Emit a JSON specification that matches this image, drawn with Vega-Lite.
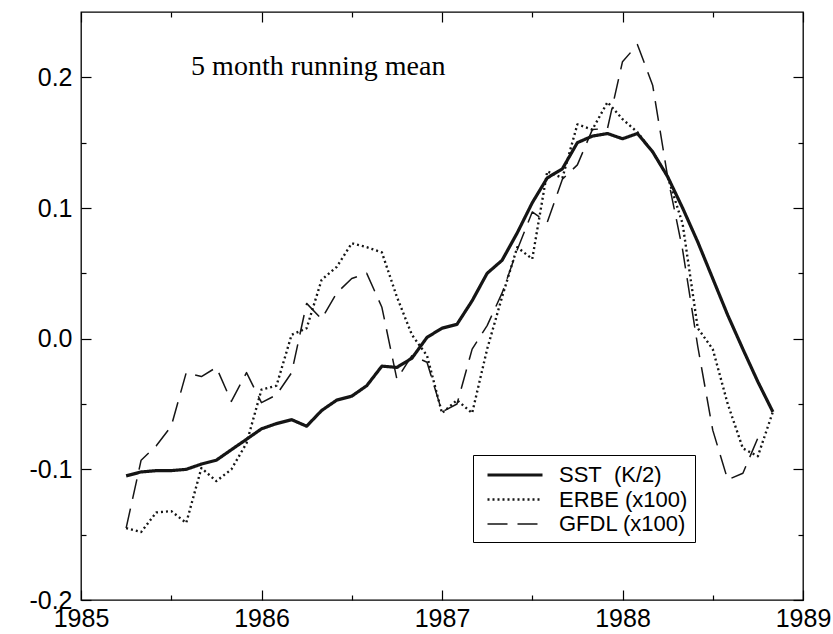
{
  "$schema": "https://vega.github.io/schema/vega-lite/v6.json",
  "width": 722,
  "height": 588,
  "autosize": {"type": "none"},
  "padding": {"left": 81, "top": 12, "right": 30, "bottom": 34},
  "background": "white",
  "config": {
    "view": {"stroke": "black", "strokeWidth": 1.3},
    "axis": {"grid": false, "domain": false, "title": null, "tickColor": "black", "tickWidth": 1.2, "labelColor": "black"}
  },
  "datasets": {
    "lines": [
      {"s": "SST", "t": 1985.25, "v": -0.105},
      {"s": "SST", "t": 1985.333, "v": -0.102},
      {"s": "SST", "t": 1985.417, "v": -0.101},
      {"s": "SST", "t": 1985.5, "v": -0.101},
      {"s": "SST", "t": 1985.583, "v": -0.1},
      {"s": "SST", "t": 1985.667, "v": -0.096},
      {"s": "SST", "t": 1985.75, "v": -0.093},
      {"s": "SST", "t": 1985.833, "v": -0.085},
      {"s": "SST", "t": 1985.917, "v": -0.077},
      {"s": "SST", "t": 1986.0, "v": -0.069},
      {"s": "SST", "t": 1986.083, "v": -0.065},
      {"s": "SST", "t": 1986.167, "v": -0.062},
      {"s": "SST", "t": 1986.25, "v": -0.067},
      {"s": "SST", "t": 1986.333, "v": -0.055},
      {"s": "SST", "t": 1986.417, "v": -0.047},
      {"s": "SST", "t": 1986.5, "v": -0.044},
      {"s": "SST", "t": 1986.583, "v": -0.036},
      {"s": "SST", "t": 1986.667, "v": -0.021},
      {"s": "SST", "t": 1986.75, "v": -0.022},
      {"s": "SST", "t": 1986.833, "v": -0.015},
      {"s": "SST", "t": 1986.917, "v": 0.001},
      {"s": "SST", "t": 1987.0, "v": 0.008},
      {"s": "SST", "t": 1987.083, "v": 0.011},
      {"s": "SST", "t": 1987.167, "v": 0.029},
      {"s": "SST", "t": 1987.25, "v": 0.05},
      {"s": "SST", "t": 1987.333, "v": 0.06},
      {"s": "SST", "t": 1987.417, "v": 0.081},
      {"s": "SST", "t": 1987.5, "v": 0.104},
      {"s": "SST", "t": 1987.583, "v": 0.123},
      {"s": "SST", "t": 1987.667, "v": 0.13},
      {"s": "SST", "t": 1987.75, "v": 0.15},
      {"s": "SST", "t": 1987.833, "v": 0.155},
      {"s": "SST", "t": 1987.917, "v": 0.157},
      {"s": "SST", "t": 1988.0, "v": 0.153},
      {"s": "SST", "t": 1988.083, "v": 0.157},
      {"s": "SST", "t": 1988.167, "v": 0.143},
      {"s": "SST", "t": 1988.25, "v": 0.124},
      {"s": "SST", "t": 1988.333, "v": 0.1},
      {"s": "SST", "t": 1988.417, "v": 0.074},
      {"s": "SST", "t": 1988.5, "v": 0.046},
      {"s": "SST", "t": 1988.583, "v": 0.018},
      {"s": "SST", "t": 1988.667, "v": -0.008},
      {"s": "SST", "t": 1988.75, "v": -0.033},
      {"s": "SST", "t": 1988.833, "v": -0.056},
      {"s": "ERBE", "t": 1985.25, "v": -0.145},
      {"s": "ERBE", "t": 1985.333, "v": -0.148},
      {"s": "ERBE", "t": 1985.417, "v": -0.133},
      {"s": "ERBE", "t": 1985.5, "v": -0.132},
      {"s": "ERBE", "t": 1985.583, "v": -0.141},
      {"s": "ERBE", "t": 1985.667, "v": -0.099},
      {"s": "ERBE", "t": 1985.75, "v": -0.109},
      {"s": "ERBE", "t": 1985.833, "v": -0.1},
      {"s": "ERBE", "t": 1985.917, "v": -0.08},
      {"s": "ERBE", "t": 1986.0, "v": -0.039},
      {"s": "ERBE", "t": 1986.083, "v": -0.036},
      {"s": "ERBE", "t": 1986.167, "v": 0.003},
      {"s": "ERBE", "t": 1986.25, "v": 0.008},
      {"s": "ERBE", "t": 1986.333, "v": 0.045},
      {"s": "ERBE", "t": 1986.417, "v": 0.055},
      {"s": "ERBE", "t": 1986.5, "v": 0.073},
      {"s": "ERBE", "t": 1986.583, "v": 0.07},
      {"s": "ERBE", "t": 1986.667, "v": 0.066},
      {"s": "ERBE", "t": 1986.75, "v": 0.032},
      {"s": "ERBE", "t": 1986.833, "v": 0.003},
      {"s": "ERBE", "t": 1986.917, "v": -0.013},
      {"s": "ERBE", "t": 1987.0, "v": -0.057},
      {"s": "ERBE", "t": 1987.083, "v": -0.047},
      {"s": "ERBE", "t": 1987.167, "v": -0.057},
      {"s": "ERBE", "t": 1987.25, "v": -0.008},
      {"s": "ERBE", "t": 1987.333, "v": 0.032},
      {"s": "ERBE", "t": 1987.417, "v": 0.07},
      {"s": "ERBE", "t": 1987.5, "v": 0.061},
      {"s": "ERBE", "t": 1987.583, "v": 0.128},
      {"s": "ERBE", "t": 1987.667, "v": 0.123},
      {"s": "ERBE", "t": 1987.75, "v": 0.164},
      {"s": "ERBE", "t": 1987.833, "v": 0.16},
      {"s": "ERBE", "t": 1987.917, "v": 0.181},
      {"s": "ERBE", "t": 1988.0, "v": 0.168},
      {"s": "ERBE", "t": 1988.083, "v": 0.158},
      {"s": "ERBE", "t": 1988.167, "v": 0.143},
      {"s": "ERBE", "t": 1988.25, "v": 0.124},
      {"s": "ERBE", "t": 1988.333, "v": 0.088},
      {"s": "ERBE", "t": 1988.417, "v": 0.008},
      {"s": "ERBE", "t": 1988.5, "v": -0.008},
      {"s": "ERBE", "t": 1988.583, "v": -0.05},
      {"s": "ERBE", "t": 1988.667, "v": -0.084},
      {"s": "ERBE", "t": 1988.75, "v": -0.09},
      {"s": "ERBE", "t": 1988.833, "v": -0.056},
      {"s": "GFDL", "t": 1985.25, "v": -0.145},
      {"s": "GFDL", "t": 1985.333, "v": -0.093},
      {"s": "GFDL", "t": 1985.417, "v": -0.082},
      {"s": "GFDL", "t": 1985.5, "v": -0.067},
      {"s": "GFDL", "t": 1985.583, "v": -0.026},
      {"s": "GFDL", "t": 1985.667, "v": -0.029},
      {"s": "GFDL", "t": 1985.75, "v": -0.022},
      {"s": "GFDL", "t": 1985.833, "v": -0.048},
      {"s": "GFDL", "t": 1985.917, "v": -0.026},
      {"s": "GFDL", "t": 1986.0, "v": -0.049},
      {"s": "GFDL", "t": 1986.083, "v": -0.043},
      {"s": "GFDL", "t": 1986.167, "v": -0.026},
      {"s": "GFDL", "t": 1986.25, "v": 0.027},
      {"s": "GFDL", "t": 1986.333, "v": 0.015},
      {"s": "GFDL", "t": 1986.417, "v": 0.035},
      {"s": "GFDL", "t": 1986.5, "v": 0.046},
      {"s": "GFDL", "t": 1986.583, "v": 0.05},
      {"s": "GFDL", "t": 1986.667, "v": 0.024},
      {"s": "GFDL", "t": 1986.75, "v": -0.031},
      {"s": "GFDL", "t": 1986.833, "v": -0.013},
      {"s": "GFDL", "t": 1986.917, "v": -0.018},
      {"s": "GFDL", "t": 1987.0, "v": -0.056},
      {"s": "GFDL", "t": 1987.083, "v": -0.05},
      {"s": "GFDL", "t": 1987.167, "v": -0.008},
      {"s": "GFDL", "t": 1987.25, "v": 0.01},
      {"s": "GFDL", "t": 1987.333, "v": 0.035},
      {"s": "GFDL", "t": 1987.417, "v": 0.068},
      {"s": "GFDL", "t": 1987.5, "v": 0.097},
      {"s": "GFDL", "t": 1987.583, "v": 0.089},
      {"s": "GFDL", "t": 1987.667, "v": 0.122},
      {"s": "GFDL", "t": 1987.75, "v": 0.133},
      {"s": "GFDL", "t": 1987.833, "v": 0.16},
      {"s": "GFDL", "t": 1987.917, "v": 0.161},
      {"s": "GFDL", "t": 1988.0, "v": 0.212},
      {"s": "GFDL", "t": 1988.083, "v": 0.225},
      {"s": "GFDL", "t": 1988.167, "v": 0.194},
      {"s": "GFDL", "t": 1988.25, "v": 0.124},
      {"s": "GFDL", "t": 1988.333, "v": 0.068},
      {"s": "GFDL", "t": 1988.417, "v": -0.006},
      {"s": "GFDL", "t": 1988.5, "v": -0.07},
      {"s": "GFDL", "t": 1988.583, "v": -0.108},
      {"s": "GFDL", "t": 1988.667, "v": -0.103},
      {"s": "GFDL", "t": 1988.75, "v": -0.076}
    ],
    "note": [
      {"label": "5 month running mean", "t": 1985.61, "v": 0.208}
    ]
  },
  "layer": [
    {
      "data": {"name": "lines"},
      "mark": {"type": "line", "color": "#151515", "strokeCap": "butt", "strokeJoin": "round"},
      "encoding": {
        "x": {"field": "t", "type": "quantitative", "scale": {"domain": [1985, 1989], "nice": false, "zero": false},
          "axis": {"orient": "bottom", "values": [1985, 1986, 1987, 1988, 1989], "format": "d", "ticks": false, "labelFont": "Liberation Sans", "labelFontSize": 25, "labelPadding": 6, "labelFlush": false, "labelOverlap": false}},
        "y": {"field": "v", "type": "quantitative", "scale": {"domain": [-0.2, 0.25], "nice": false, "zero": false},
          "axis": {"orient": "left", "values": [-0.2, -0.1, 0, 0.1, 0.2], "labelExpr": "replace(format(datum.value, '.1f'), '\u2212', '-')", "ticks": false, "labelFont": "Liberation Sans", "labelFontSize": 25, "labelPadding": 9, "labelFlush": false, "labelOverlap": false}},
        "strokeDash": {"field": "s", "type": "nominal",
          "scale": {"domain": ["SST", "ERBE", "GFDL"], "range": [[1, 0], [2, 3], [20, 10]]},
          "legend": {"orient": "none", "legendX": 392, "legendY": 443, "title": null, "strokeColor": "black", "fillColor": "white", "padding": 7,
            "labelExpr": "datum.label == 'SST' ? 'SST\u00a0\u00a0(K/2)' : datum.label + ' (x100)'",
            "labelFont": "Liberation Sans", "labelFontSize": 22, "labelColor": "black",
            "symbolType": "M-0.5,0H4.5", "symbolSize": 484, "symbolStrokeColor": "black", "symbolFillColor": "transparent",
            "rowPadding": 1, "labelOffset": 53}},
        "strokeWidth": {"field": "s", "type": "nominal", "scale": {"domain": ["SST", "ERBE", "GFDL"], "range": [3.2, 1.5, 1.5]}}
      }
    },
    {
      "data": {"name": "lines"},
      "mark": {"type": "point", "opacity": 0},
      "encoding": {
        "x": {"field": "t", "type": "quantitative", "axis": {"orient": "bottom", "values": [1985, 1986, 1987, 1988, 1989], "labels": false, "tickSize": -10}},
        "y": {"field": "v", "type": "quantitative", "axis": {"orient": "left", "values": [-0.2, -0.1, 0, 0.1, 0.2], "labels": false, "tickSize": -10}}
      }
    },
    {
      "data": {"name": "lines"},
      "mark": {"type": "point", "opacity": 0},
      "encoding": {
        "x": {"field": "t", "type": "quantitative", "axis": {"orient": "bottom", "values": [1985.5, 1986.5, 1987.5, 1988.5], "labels": false, "tickSize": -5}},
        "y": {"field": "v", "type": "quantitative", "axis": {"orient": "left", "values": [-0.15, -0.05, 0.05, 0.15], "labels": false, "tickSize": -5}}
      }
    },
    {
      "data": {"name": "lines"},
      "mark": {"type": "point", "opacity": 0},
      "encoding": {
        "x": {"field": "t", "type": "quantitative", "axis": {"orient": "top", "values": [1985, 1986, 1987, 1988, 1989], "labels": false, "tickSize": -10}},
        "y": {"field": "v", "type": "quantitative", "axis": {"orient": "right", "values": [-0.2, -0.1, 0, 0.1, 0.2], "labels": false, "tickSize": -10}}
      }
    },
    {
      "data": {"name": "lines"},
      "mark": {"type": "point", "opacity": 0},
      "encoding": {
        "x": {"field": "t", "type": "quantitative", "axis": {"orient": "top", "values": [1985.5, 1986.5, 1987.5, 1988.5], "labels": false, "tickSize": -5}},
        "y": {"field": "v", "type": "quantitative", "axis": {"orient": "right", "values": [-0.15, -0.05, 0.05, 0.15], "labels": false, "tickSize": -5}}
      }
    },
    {
      "data": {"name": "note"},
      "mark": {"type": "text", "font": "Liberation Serif", "fontSize": 28, "align": "left", "baseline": "middle", "color": "black"},
      "encoding": {
        "x": {"field": "t", "type": "quantitative", "axis": null},
        "y": {"field": "v", "type": "quantitative", "axis": null},
        "text": {"field": "label"}
      }
    }
  ],
  "resolve": {"axis": {"x": "independent", "y": "independent"}}
}
